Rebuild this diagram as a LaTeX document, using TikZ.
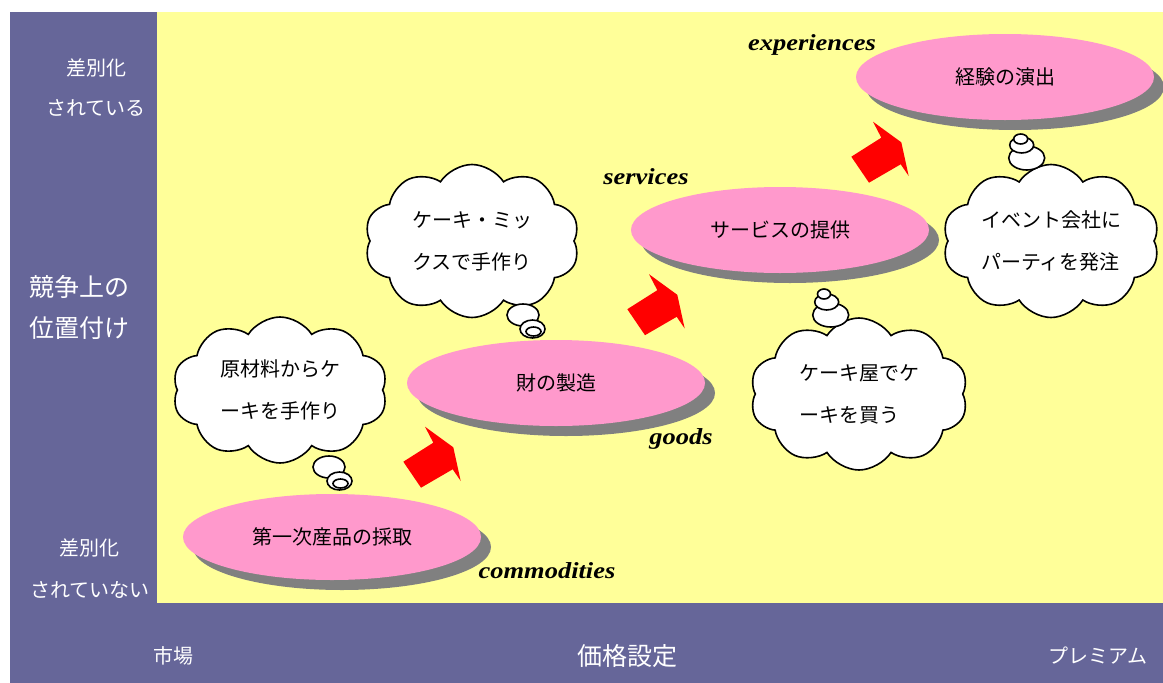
\documentclass[tikz,border=0pt]{standalone}
\usepackage{fontspec}
\newfontfamily\jp{Noto Sans CJK JP}
\newfontfamily\lser[FakeStretch=1.15]{Liberation Serif}
\usetikzlibrary{shapes.geometric,shapes.symbols,shadows}
\definecolor{panel}{RGB}{102,102,153}
\definecolor{field}{RGB}{255,255,153}
\definecolor{pinkfill}{RGB}{255,153,204}
\definecolor{shade}{RGB}{128,128,128}
\tikzset{
  stage/.style={ellipse, fill=pinkfill, minimum width=298pt, minimum height=86pt, inner sep=0pt,
    font=\jp\fontsize{20}{24}\selectfont,
    drop shadow={shadow xshift=10pt, shadow yshift=-10pt, fill=shade, opacity=1}},
  thought/.style={cloud, cloud puffs=10, cloud puff arc=115, cloud ignores aspect, draw=black, line width=1.6pt,
    fill=white, inner sep=0pt, align=left, font=\jp\fontsize{20}{42}\selectfont},
  bubble/.style={ellipse, draw=black, line width=1.6pt, fill=white, inner sep=0pt},
  tag/.style={font=\lser\bfseries\itshape\fontsize{23}{26}\selectfont, inner sep=0pt},
  sidelabel/.style={text=white, align=center, inner sep=0pt},
  blockarrow/.style={fill=red, draw=none}
}
\begin{document}
\begin{tikzpicture}[x=1pt,y=-1pt]
\useasboundingbox (0,0) rectangle (1163,683);
\fill[white] (0,0) rectangle (1163,683);
\fill[panel] (10,12) rectangle (1163,683);
\fill[field] (157,12) rectangle (1163,603);

% side labels
\node[sidelabel, font=\jp\fontsize{20}{40}\selectfont] (diffhi) at (96,88) {差別化\\されている};
\node[sidelabel, font=\jp\fontsize{25}{41}\selectfont] (axisy) at (80,307) {競争上の\\位置付け};
\node[sidelabel, font=\jp\fontsize{20}{42}\selectfont] (difflo) at (90,569) {差別化\\されていない};
\node[sidelabel, font=\jp\fontsize{20}{24}\selectfont] (market) at (173,656) {市場};
\node[sidelabel, font=\jp\fontsize{25}{30}\selectfont] (axisx) at (627,656) {価格設定};
\node[sidelabel, font=\jp\fontsize{20}{24}\selectfont] (premium) at (1098,656) {プレミアム};

% stages
\node[stage] (e1) at (332,537) {第一次産品の採取};
\node[stage] (e2) at (556,383) {財の製造};
\node[stage] (e3) at (780,230) {サービスの提供};
\node[stage] (e4) at (1005,77) {経験の演出};

% tags
\node[tag] (t1) at (547,571) {commodities};
\node[tag] (t2) at (681,439) {goods};
\node[tag] (t3) at (646,177) {services};
\node[tag] (t4) at (812,45) {experiences};

% block arrows
\foreach \dx/\dy [count=\i] in {0/0, 224/-152.5, 448/-305}{
  \begin{scope}[shift={(\dx,\dy)}]
    \coordinate (a\i) at (430,455);
    \fill[blockarrow] (425,426.7) -- (453.3,447.3) -- (460.7,481) -- (452.7,469.3)
      -- (421,487.7) -- (403.3,461.7) -- (433.3,442.7) -- cycle;
  \end{scope}
}

% thought clouds
\node[thought, minimum width=215pt, minimum height=146pt] (c1) at (280,390) {原材料からケ\\ーキを手作り};
\node[bubble, minimum width=32pt, minimum height=22pt] (c1b1) at (329,467) {};
\node[bubble, minimum width=25pt, minimum height=18pt] (c1b2) at (339.5,481) {};
\node[bubble, minimum width=15pt, minimum height=9pt] (c1b3) at (340.5,483.5) {};

\node[thought, minimum width=215pt, minimum height=153pt] (c2) at (472,241) {ケーキ・ミッ\\クスで手作り};
\node[bubble, minimum width=32pt, minimum height=22pt] (c2b1) at (523,315) {};
\node[bubble, minimum width=25pt, minimum height=18pt] (c2b2) at (532.5,329) {};
\node[bubble, minimum width=15pt, minimum height=9pt] (c2b3) at (533.5,331.5) {};

\node[thought, minimum width=218pt, minimum height=152pt] (c3) at (859,394) {ケーキ屋でケ\\ーキを買う};
\node[bubble, minimum width=36pt, minimum height=24pt] (c3b1) at (830.7,315) {};
\node[bubble, minimum width=24pt, minimum height=16pt] (c3b2) at (826.7,302) {};
\node[bubble, minimum width=13pt, minimum height=10pt] (c3b3) at (824,294) {};

\node[thought, minimum width=217pt, minimum height=153pt] (c4) at (1051,241) {イベント会社に\\パーティを発注};
\node[bubble, minimum width=36pt, minimum height=24pt] (c4b1) at (1026.7,158) {};
\node[bubble, minimum width=24pt, minimum height=16pt] (c4b2) at (1021.7,145) {};
\node[bubble, minimum width=14pt, minimum height=10pt] (c4b3) at (1020.7,139) {};
\end{tikzpicture}
\end{document}
